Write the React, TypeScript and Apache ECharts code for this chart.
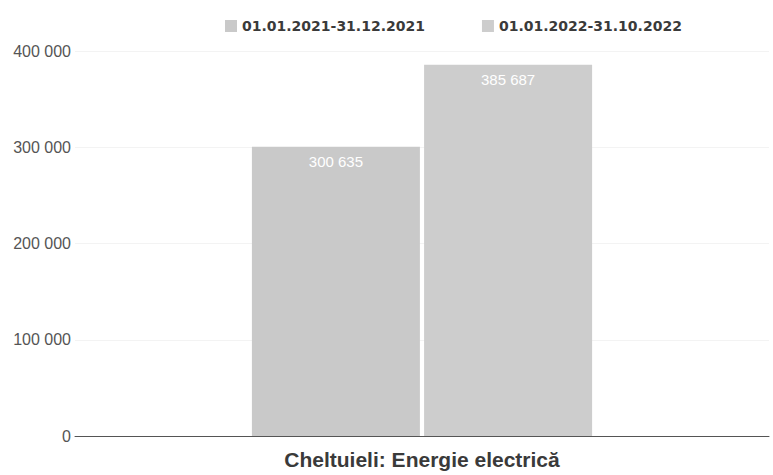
import React, { useEffect, useRef } from "react";
import * as echarts from "echarts";

const categories = ["Cheltuieli: Energie electrică"];
const seriesNames = ["01.01.2021-31.12.2021", "01.01.2022-31.10.2022"];
const values2021 = [300635];
const values2022 = [385687];
const yTicks = [0, 100000, 200000, 300000, 400000];

const fmt = (v: number) => String(Math.round(v)).replace(/\B(?=(\d{3})+(?!\d))/g, " ");

export default function App() {
  const ref = useRef<HTMLDivElement>(null);
  useEffect(() => {
    if (!ref.current) return;
    const chart = echarts.init(ref.current, undefined, { renderer: "svg" });
    const barLabel = {
      show: true,
      position: "insideTop",
      distance: 7,
      color: "#ffffff",
      fontFamily: "Liberation Sans",
      fontSize: 15,
      formatter: (p: any) => fmt(p.value),
    };
    chart.setOption({
      animation: false,
      backgroundColor: "#ffffff",
      legend: {
        top: 14,
        left: 220,
        itemWidth: 12,
        itemHeight: 12,
        itemGap: 57,
        icon: "rect",
        textStyle: { fontFamily: "DejaVu Sans", fontWeight: "bold", fontSize: 14, color: "#3a3a3a" },
        data: seriesNames,
      },
      grid: { left: 75, width: 694, top: 51, bottom: 39, containLabel: false },
      xAxis: {
        type: "category",
        data: categories,
        axisLine: { show: true, lineStyle: { color: "#555555", width: 1 } },
        axisTick: { show: false },
        axisLabel: {
          margin: 13,
          fontFamily: "Liberation Sans",
          fontWeight: "bold",
          fontSize: 21,
          color: "#3a3a3a",
        },
      },
      yAxis: {
        type: "value",
        min: yTicks[0],
        max: yTicks[yTicks.length - 1],
        interval: 100000,
        axisLine: { show: false },
        axisTick: { show: false },
        splitLine: { show: true, lineStyle: { color: "#f3f3f3" } },
        axisLabel: {
          margin: 4,
          fontFamily: "Liberation Sans",
          fontSize: 16,
          color: "#555555",
          formatter: (v: number) => fmt(v),
        },
      },
      series: [
        {
          name: seriesNames[0],
          type: "bar",
          data: values2021,
          barWidth: 168,
          barGap: "2.5%",
          itemStyle: { color: "#c9c9c9" },
          label: barLabel,
        },
        {
          name: seriesNames[1],
          type: "bar",
          data: values2022,
          barWidth: 168,
          barGap: "2.5%",
          itemStyle: { color: "#cdcdcd" },
          label: barLabel,
        },
      ],
    });
    return () => chart.dispose();
  }, []);
  return (
    <div
      ref={ref}
      style={{ position: "fixed", left: 0, top: 0, width: 773, height: 475 }}
    />
  );
}
